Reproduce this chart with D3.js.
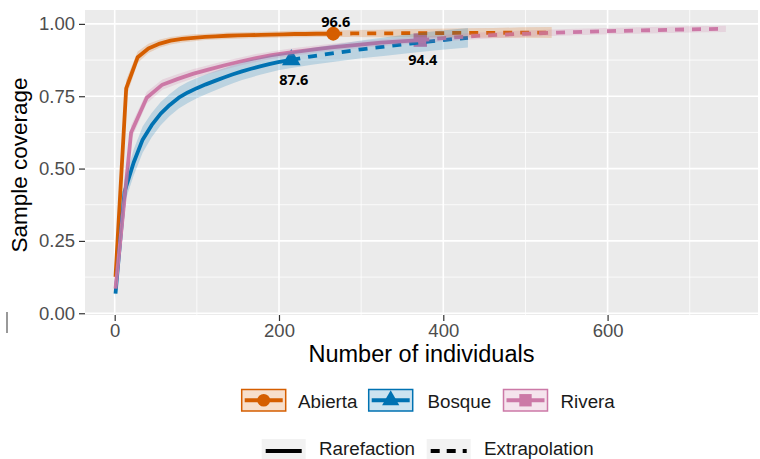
<!DOCTYPE html>
<html><head><meta charset="utf-8">
<script src="https://cdn.jsdelivr.net/npm/d3@7"></script>
<style>html,body{margin:0;padding:0;background:#fff;}svg{display:block;}</style>
</head><body>
<svg id="chart" width="760" height="459"></svg>
<script>
// ---- data ----
const sites = ["Abierta", "Bosque", "Rivera"];
const siteColors = ["#D55E00", "#0072B2", "#CC79A7"];
const refSizes = [266, 215, 372];
const refLabels = ["96.6", "87.6", "94.4"];

const abiertaM   = [1,14,28,41,55,68,82,96,110,123,137,150,164,178,191,205,219,232,246,266,290,320,355,390,425,460,495,532];
const abiertaSC  = [0.126,0.777,0.885,0.915,0.932,0.942,0.948,0.952,0.955,0.957,0.959,0.960,0.961,0.962,0.963,0.964,0.965,0.965,0.966,0.966,0.967,0.967,0.968,0.968,0.969,0.969,0.970,0.970];
const abiertaLCL = [0.106,0.747,0.865,0.899,0.918,0.929,0.936,0.940,0.944,0.946,0.948,0.949,0.950,0.951,0.952,0.953,0.954,0.954,0.955,0.955,0.955,0.954,0.954,0.953,0.953,0.952,0.952,0.951];
const abiertaUCL = [0.146,0.807,0.905,0.931,0.946,0.955,0.960,0.964,0.966,0.968,0.970,0.971,0.972,0.973,0.974,0.975,0.976,0.976,0.977,0.977,0.979,0.980,0.982,0.983,0.985,0.986,0.988,0.989];

const bosqueM   = [1,12,23,34,45,56,67,78,89,100,111,122,133,144,155,166,177,188,199,215,240,270,300,330,360,395,430];
const bosqueSC  = [0.068,0.42,0.52,0.60,0.65,0.69,0.72,0.745,0.763,0.778,0.791,0.803,0.815,0.826,0.836,0.845,0.853,0.861,0.868,0.876,0.888,0.900,0.912,0.922,0.932,0.943,0.952];
const bosqueLCL = [0.048,0.38,0.475,0.555,0.608,0.65,0.682,0.708,0.727,0.743,0.757,0.77,0.783,0.795,0.806,0.815,0.824,0.832,0.84,0.848,0.859,0.87,0.881,0.89,0.899,0.91,0.918];
const bosqueUCL = [0.088,0.46,0.565,0.645,0.692,0.73,0.758,0.782,0.799,0.813,0.825,0.836,0.847,0.857,0.866,0.875,0.882,0.89,0.896,0.904,0.917,0.93,0.943,0.954,0.965,0.976,0.986];

const riveraM   = [1,20,39,58,77,96,115,134,153,172,191,210,229,248,267,286,305,324,343,372,410,450,500,550,600,650,700,744];
const riveraSC  = [0.085,0.625,0.745,0.79,0.81,0.828,0.843,0.857,0.870,0.882,0.892,0.900,0.907,0.914,0.920,0.925,0.930,0.935,0.939,0.944,0.953,0.960,0.966,0.971,0.975,0.978,0.981,0.983];
const riveraLCL = [0.07,0.6,0.725,0.772,0.793,0.812,0.828,0.842,0.856,0.868,0.879,0.887,0.894,0.902,0.908,0.913,0.918,0.924,0.928,0.933,0.942,0.949,0.955,0.96,0.964,0.967,0.97,0.972];
const riveraUCL = [0.1,0.65,0.765,0.808,0.827,0.844,0.858,0.872,0.884,0.896,0.905,0.913,0.92,0.926,0.932,0.937,0.942,0.946,0.95,0.955,0.964,0.971,0.977,0.982,0.986,0.989,0.992,0.994];

const xTicks = [0, 200, 400, 600];
const xMinor = [100, 300, 500, 700];
const yTicks = [0, 0.25, 0.5, 0.75, 1];
const yMinor = [0.125, 0.375, 0.625, 0.875];
const methods = ["Rarefaction", "Extrapolation"];

// ---- build ----
const series = [
  {M: abiertaM, SC: abiertaSC, L: abiertaLCL, U: abiertaUCL},
  {M: bosqueM, SC: bosqueSC, L: bosqueLCL, U: bosqueUCL},
  {M: riveraM, SC: riveraSC, L: riveraLCL, U: riveraUCL}
].map((s, i) => {
  const pts = s.M.map((m, j) => ({m, sc: s.SC[j], lo: s.L[j], hi: s.U[j]}));
  return {name: sites[i], color: siteColors[i], n: refSizes[i], label: refLabels[i], pts,
    ref: pts.find(p => p.m === refSizes[i])};
});

const svg = d3.select("#chart");
const P = {l: 85, r: 758, t: 10, b: 315};
const x = d3.scaleLinear().domain([-36.15, 783.1]).range([P.l, P.r]);
const y = d3.scaleLinear().domain([-0.006, 1.048]).range([P.b, P.t]);

svg.append("rect").attr("x", P.l).attr("y", P.t).attr("width", P.r - P.l).attr("height", P.b - P.t).attr("fill", "#EBEBEB");
const grid = svg.append("g");
grid.selectAll(".ymin").data(yMinor).join("line").attr("x1", P.l).attr("x2", P.r)
  .attr("y1", d => y(d)).attr("y2", d => y(d)).attr("stroke", "#fff").attr("stroke-width", 0.8);
grid.selectAll(".xmin").data(xMinor).join("line").attr("y1", P.t).attr("y2", P.b)
  .attr("x1", d => x(d)).attr("x2", d => x(d)).attr("stroke", "#fff").attr("stroke-width", 0.8);
grid.selectAll(".ymaj").data(yTicks).join("line").attr("x1", P.l).attr("x2", P.r)
  .attr("y1", d => y(d)).attr("y2", d => y(d)).attr("stroke", "#fff").attr("stroke-width", 1.6);
grid.selectAll(".xmaj").data(xTicks).join("line").attr("y1", P.t).attr("y2", P.b)
  .attr("x1", d => x(d)).attr("x2", d => x(d)).attr("stroke", "#fff").attr("stroke-width", 1.6);

// points
const symbols = [d3.symbolCircle, d3.symbolTriangle, d3.symbolSquare];
const symSizes = [150, 150, 180];
const gPts = svg.append("g");
series.forEach((s, i) => {
  gPts.append("path").attr("d", d3.symbol().type(symbols[i]).size(symSizes[i]))
    .attr("transform", `translate(${x(s.ref.m)},${y(s.ref.sc)})`).attr("fill", s.color);
});

// lines
const line = d3.line().x(d => x(d.m)).y(d => y(d.sc));
const gLines = svg.append("g");
series.forEach(s => {
  const rare = s.pts.filter(p => p.m <= s.n);
  const ext = s.pts.filter(p => p.m >= s.n);
  gLines.append("path").attr("d", line(rare)).attr("fill", "none").attr("stroke", s.color)
    .attr("stroke-width", 3.8).attr("stroke-linejoin", "round");
  gLines.append("path").attr("d", line(ext)).attr("fill", "none").attr("stroke", s.color)
    .attr("stroke-width", 3.8).attr("stroke-dasharray", "9,8");
});

// ribbons
const area = d3.area().x(d => x(d.m)).y0(d => y(d.lo)).y1(d => y(d.hi));
const gRib = svg.append("g");
series.forEach(s => {
  gRib.append("path").attr("d", area(s.pts)).attr("fill", s.color).attr("fill-opacity", 0.2);
});

// labels
const labelDy = [-7, 25, 25];
series.forEach((s, i) => {
  svg.append("text").attr("x", x(s.ref.m) + 2.5).attr("y", y(s.ref.sc) + labelDy[i])
    .attr("text-anchor", "middle").attr("font-family", "Noto Sans").attr("font-weight", "bold")
    .attr("font-size", 14.5).attr("fill", "#000").text(s.label);
});

// axes
const fmtY = d3.format(".2f");
const ax = svg.append("g").attr("transform", `translate(0,${P.b})`)
  .call(d3.axisBottom(x).tickValues(xTicks).tickSize(6).tickPadding(2.5).tickFormat(d3.format("d")));
const ay = svg.append("g").attr("transform", `translate(${P.l},0)`)
  .call(d3.axisLeft(y).tickValues(yTicks).tickSize(6).tickPadding(4).tickFormat(fmtY));
[ax, ay].forEach(a => {
  a.select(".domain").remove();
  a.selectAll(".tick line").attr("stroke", "#333").attr("stroke-width", 1.2);
  a.selectAll(".tick text").attr("fill", "#4D4D4D").attr("font-family", "Liberation Sans").attr("font-size", 18.5);
});

svg.append("text").attr("x", (P.l + P.r) / 2).attr("y", 362).attr("text-anchor", "middle")
  .attr("font-family", "Liberation Sans").attr("font-size", 23.5).attr("fill", "#000").text("Number of individuals");
svg.append("text").attr("transform", "translate(27,165) rotate(-90)").attr("text-anchor", "middle")
  .attr("font-family", "Liberation Sans").attr("font-size", 22.5).attr("fill", "#000").text("Sample coverage");

// stray mark at left
svg.append("line").attr("x1", 7).attr("x2", 7).attr("y1", 312).attr("y2", 333).attr("stroke", "#555").attr("stroke-width", 1.2);

// legend row 1
const keyX = [241.7, 368.7, 503.5];
const txtX = [298, 427.5, 560.5];
series.forEach((s, i) => {
  const g = svg.append("g").attr("transform", `translate(${keyX[i]},389.5)`);
  g.append("rect").attr("width", 44).attr("height", 21.5).attr("fill", "#fff");
  g.append("rect").attr("width", 44).attr("height", 21.5).attr("fill", s.color).attr("fill-opacity", 0.2)
    .attr("stroke", s.color).attr("stroke-width", 1.5);
  g.append("line").attr("x1", 3).attr("x2", 41).attr("y1", 10.75).attr("y2", 10.75)
    .attr("stroke", s.color).attr("stroke-width", 3.8);
  g.append("path").attr("d", d3.symbol().type(symbols[i]).size(symSizes[i] * 0.85))
    .attr("transform", "translate(22,10.75)").attr("fill", s.color);
  svg.append("text").attr("x", txtX[i]).attr("y", 408).attr("font-family", "Liberation Sans")
    .attr("font-size", 18.8).attr("fill", "#1a1a1a").text(s.name);
});

// legend row 2
const mKeyX = [261.7, 426.7];
const mTxtX = [319, 484];
methods.forEach((m, i) => {
  const g = svg.append("g").attr("transform", `translate(${mKeyX[i]},439)`);
  g.append("rect").attr("width", 44).attr("height", 22).attr("fill", "#F2F2F2");
  g.append("line").attr("x1", 4).attr("x2", 40).attr("y1", 12).attr("y2", 12)
    .attr("stroke", "#000").attr("stroke-width", 3.8).attr("stroke-dasharray", i ? "9,7" : null);
  svg.append("text").attr("x", mTxtX[i]).attr("y", 454.5).attr("font-family", "Liberation Sans")
    .attr("font-size", 18.8).attr("fill", "#1a1a1a").text(m);
});
</script>
</body></html>
